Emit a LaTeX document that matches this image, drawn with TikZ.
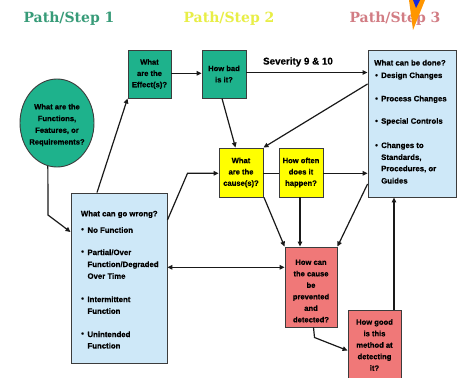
\documentclass[tikz,border=0pt]{standalone}
\usepackage{fontspec}
\setmainfont{Liberation Sans}[BoldFeatures={FakeBold=0.6}]
\newfontfamily\titlefont{DejaVu Serif}
\usetikzlibrary{arrows.meta,calc,shapes.geometric}
\definecolor{tealfill}{RGB}{30,178,140}
\definecolor{yelfill}{RGB}{255,255,0}
\definecolor{bluefill}{RGB}{206,232,248}
\definecolor{pinkfill}{RGB}{240,120,120}
\definecolor{boxline}{RGB}{60,60,60}
\definecolor{linecol}{RGB}{25,25,25}
\definecolor{tealtitle}{RGB}{55,155,120}
\definecolor{yeltitle}{RGB}{232,238,70}
\definecolor{pinktitle}{RGB}{210,125,132}
\definecolor{cursorange}{RGB}{255,150,0}
\definecolor{cursblue}{RGB}{20,40,220}
\begin{document}
\begin{tikzpicture}[x=1pt,y=-1pt,
  boxbase/.style={draw=boxline, line width=0.9pt, inner sep=0pt, align=center,
     font=\bfseries\fontsize{7.6}{11.3}\selectfont},
  tealbox/.style={boxbase, fill=tealfill},
  yelbox/.style={boxbase, fill=yelfill},
  bluebox/.style={boxbase, fill=bluefill},
  pinkbox/.style={boxbase, fill=pinkfill},
  bigtxt/.style={inner sep=0pt, anchor=west, font=\bfseries\fontsize{7.8}{9}\selectfont},
  boxtxt/.style={inner sep=0pt, align=center, font=\bfseries\fontsize{7.6}{11.5}\selectfont},
  conn/.style={draw=linecol, line width=1.2pt},
  arr/.style={conn, -{Triangle[length=5pt,width=4.5pt]}},
  darr/.style={conn, {Triangle[length=5pt,width=4.5pt]}-{Triangle[length=5pt,width=4.5pt]}},
  title/.style={inner sep=0pt, font=\titlefont\bfseries\fontsize{14}{16}\selectfont}
]
\useasboundingbox (0,0) rectangle (462,377);
\fill[white] (0,0) rectangle (462,377);

% titles
\node[title, text=tealtitle] (t1) at (69,19) {Path/Step 1};
\node[title, text=yeltitle] (t2) at (229,19) {Path/Step 2};
\node[title, text=pinktitle] (t3) at (395,19) {Path/Step 3};

% cursor mark
\fill[cursorange] (409,0) -- (425,0) -- (413,30) -- cycle;
\fill[cursblue] (413,0) -- (420,0) -- (416,8) -- cycle;

% circle
\node[ellipse, draw=boxline, line width=0.9pt, fill=tealfill, minimum width=74pt, minimum height=88pt, inner sep=0pt] (circ) at (57,123) {};
\node[boxtxt, font=\bfseries\fontsize{7.6}{11.7}\selectfont] (circtxt) at (57,125) {What are the\\Functions,\\Features, or\\Requirements?};

% boxes
\node[tealbox, minimum width=43pt, minimum height=48pt] (eff) at (149.5,74) {What\\are the\\Effect(s)?};
\node[tealbox, minimum width=44pt, minimum height=48pt] (bad) at (224,74) {How bad\\is it?};
\node[bluebox, minimum width=88pt, minimum height=147pt] (done) at (412,123.5) {};
\node[yelbox, minimum width=44pt, minimum height=49pt] (cause) at (241,172.5) {What\\are the\\cause(s)?};
\node[yelbox, minimum width=44pt, minimum height=49pt] (often) at (301,172.5) {How often\\does it\\happen?};
\node[bluebox, minimum width=96pt, minimum height=170pt] (wrong) at (119,278) {};
\node[pinkbox, minimum width=52pt, minimum height=80pt] (prev) at (311,287) {};
\node[boxtxt] (prevtxt) at (311,291) {How can\\the cause\\be\\prevented\\and\\detected?};
\node[pinkbox, minimum width=53pt, minimum height=74pt] (good) at (374.5,347) {};
\node[boxtxt] (goodtxt) at (374.5,345) {How good\\is this\\method at\\detecting\\it?};

% done box text
\node[bigtxt] (d0) at (374,62.7) {What can be done?};
\node[bigtxt] (d1b) at (375,76) {•};
\node[bigtxt] (d1) at (381,76) {Design Changes};
\node[bigtxt] (d2b) at (375,99.3) {•};
\node[bigtxt] (d2) at (381,99.3) {Process Changes};
\node[bigtxt] (d3b) at (375,121.7) {•};
\node[bigtxt] (d3) at (381,121.7) {Special Controls};
\node[bigtxt] (d4b) at (375,146) {•};
\node[bigtxt] (d4) at (381,146) {Changes to};
\node[bigtxt] (d5) at (381,157.7) {Standards,};
\node[bigtxt] (d6) at (381,169) {Procedures, or};
\node[bigtxt] (d7) at (381,180.7) {Guides};

% wrong box text
\node[bigtxt] (w0) at (80.7,214.3) {What can go wrong?};
\node[bigtxt] (w1b) at (81,230) {•};
\node[bigtxt] (w1) at (87.3,230) {No Function};
\node[bigtxt] (w2b) at (81,252.3) {•};
\node[bigtxt] (w2) at (87.3,252.3) {Partial/Over};
\node[bigtxt] (w3) at (87.3,265) {Function/Degraded};
\node[bigtxt] (w4) at (87.3,276) {Over Time};
\node[bigtxt] (w5b) at (81,299.3) {•};
\node[bigtxt] (w5) at (87.3,299.3) {Intermittent};
\node[bigtxt] (w6) at (87.3,311) {Function};
\node[bigtxt] (w7b) at (81,334.3) {•};
\node[bigtxt] (w7) at (87.3,334.3) {Unintended};
\node[bigtxt] (w8) at (87.3,345.7) {Function};

% severity label
\node[inner sep=0pt, font=\bfseries\fontsize{9.8}{11}\selectfont] (sev) at (298,62) {Severity 9 \& 10};

% connectors
\coordinate (k1) at (48,215);
\draw[arr] (circ.258) -- (k1) -- (wrong.west |- 0,232);
\draw[arr] (wrong.north west -| 97,0) -- (eff.south west);
\draw[arr] (eff.east |- 0,73.3) -- (bad.west |- 0,73.3);
\draw[arr] (bad.east |- 0,72.5) -- (done.west |- 0,72.5);
\draw[arr] (bad.south -| 222,0) -- (cause.north -| 235.5,0);
\draw[arr] (done.west |- 0,84) -- (cause.north east);
\coordinate (k2) at (187.5,173.3);
\draw[arr] (wrong.east |- 0,220) -- (k2) -- (cause.west |- k2);
\draw[conn] (cause.east |- k2) -- (often.west |- k2);
\draw[arr] (often.east |- k2) -- (done.west |- k2);
\draw[arr] (cause.south -| 264,0) -- (prev.north west);
\draw[arr] (often.south -| 300,0) -- (prev.north -| 300,0);
\draw[arr] (done.west |- 0,184) -- (prev.north east);
\draw[darr] (prev.west |- 0,267.3) -- (wrong.east |- 0,267.3);
\coordinate (k3) at (314.5,337.5);
\draw[arr] (prev.south -| 313.5,0) -- (k3) -- (good.west |- 0,350.5);
\draw[arr] (good.north -| 394,0) -- (done.south -| 394,0);
\end{tikzpicture}
\end{document}
